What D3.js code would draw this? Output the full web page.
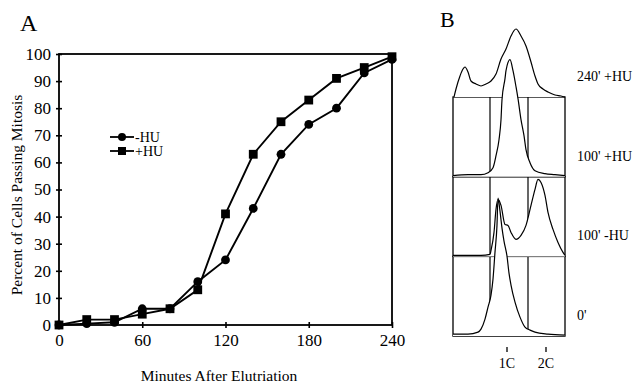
<!DOCTYPE html>
<html>
<head>
<meta charset="utf-8">
<script src="https://cdn.jsdelivr.net/npm/d3@7"></script>
<style>
  body { margin: 0; background: #fff; }
  svg { display: block; font-family: "Liberation Serif", "Times New Roman", serif; }
</style>
</head>
<body>
<svg id="chart" width="639" height="383"></svg>
<script>
// ---- panel A: percent of cells passing mitosis ----
const minutes = [0, 20, 40, 60, 80, 100, 120, 140, 160, 180, 200, 220, 240];
const minusHU = [0, 0.5, 1, 6, 6, 16, 24, 43, 63, 74, 80, 93, 98];
const plusHU  = [0, 2, 2, 4, 6, 13, 41, 63, 75, 83, 91, 95, 99];
const xTickVals = [0, 60, 120, 180, 240];
const yTickVals = [0, 10, 20, 30, 40, 50, 60, 70, 80, 90, 100];

// ---- panel B: DNA content histograms (channel, relative count) ----
const histLabels = ["240' +HU", "100' +HU", "100' -HU", "0'"];
const ch240p  = [1, 3, 7, 10, 12, 15, 18, 23, 28, 33, 38, 43, 48, 53, 58, 63, 68, 73, 78, 82, 85, 90, 95, 102, 108, 112];
const cnt240p = [0, 8, 21, 28, 30, 25, 16, 13, 11, 13, 16, 23, 38, 48, 61, 68, 61, 51, 35, 21, 13, 8, 5, 2, 1, 0];
const ch100p  = [0, 15, 28, 35, 40, 43, 46, 48, 49, 52, 53, 57, 60, 63, 65, 68, 71, 73, 77, 82, 92, 102, 112];
const cnt100p = [1, 2, 2, 4, 9, 21, 37, 57, 77, 98, 106, 117, 106, 90, 78, 57, 41, 27, 14, 6, 3, 2, 1];
const ch100m  = [0, 15, 28, 37, 38, 41, 43, 45, 48, 52, 55, 58, 63, 68, 73, 78, 82, 85, 88, 92, 95, 100, 105, 110, 112];
const cnt100m = [1, 1, 1, 2, 6, 24, 47, 57, 51, 32, 31, 24, 17, 21, 31, 51, 67, 77, 74, 61, 44, 27, 14, 4, 1];
const ch0     = [0, 15, 25, 28, 32, 35, 38, 40, 42, 44, 45, 47, 49, 51, 54, 56, 58, 62, 67, 72, 77, 82, 95, 112];
const cnt0    = [2, 2, 4, 7, 17, 29, 41, 57, 84, 111, 138, 125, 108, 95, 80, 63, 51, 34, 19, 9, 6, 4, 2, 1];
const gateChannels = [37, 75];
const peakMarks = ["1C", "2C"];
const peakChannels = [54, 93];

const svg = d3.select('#chart');

// ================= panel A =================
const xA = d3.scaleLinear().domain([0, 240]).range([59, 392]);
const yA = d3.scaleLinear().domain([0, 100]).range([325, 54]);
const gA = svg.append('g');

gA.append('text').attr('x', 20).attr('y', 31).attr('font-size', 24).text('A');

gA.append('rect')
  .attr('x', xA(0)).attr('y', yA(100))
  .attr('width', xA(240) - xA(0)).attr('height', yA(0) - yA(100))
  .attr('fill', 'none').attr('stroke', '#000').attr('stroke-width', 1.8);

const yAxis = gA.append('g').attr('transform', `translate(${xA(0)},0)`)
  .call(d3.axisLeft(yA).tickValues(yTickVals).tickSizeInner(3).tickSizeOuter(0).tickPadding(5));
gA.append('g').attr('transform', `translate(${xA(0)},0)`)
  .call(d3.axisRight(yA).tickValues(yTickVals).tickSize(3).tickFormat(''));
const xAxis = gA.append('g').attr('transform', `translate(0,${yA(0)})`)
  .call(d3.axisBottom(xA).tickValues(xTickVals).tickSizeInner(3).tickSizeOuter(0).tickPadding(6));
gA.append('g').attr('transform', `translate(0,${yA(0)})`)
  .call(d3.axisTop(xA).tickValues(xTickVals).tickSize(3).tickFormat(''));

gA.selectAll('.domain').remove();
gA.selectAll('.tick line').attr('stroke', '#000').attr('stroke-width', 1.6);
yAxis.selectAll('text').attr('font-size', 17).attr('fill', '#000');
xAxis.selectAll('text').attr('font-size', 17).attr('fill', '#000');
gA.selectAll('g').attr('font-family', null);

gA.append('text')
  .attr('transform', 'translate(22,195) rotate(-90)')
  .attr('text-anchor', 'middle').attr('font-size', 15.5)
  .text('Percent of Cells Passing Mitosis');
gA.append('text')
  .attr('x', 219).attr('y', 381)
  .attr('text-anchor', 'middle').attr('font-size', 15.5)
  .text('Minutes After Elutriation');

const line = d3.line().x(d => xA(d[0])).y(d => yA(d[1]));
const seriesA = [
  { name: '-HU', values: minusHU, shape: 'circle' },
  { name: '+HU', values: plusHU, shape: 'square' }
];

seriesA.forEach(s => {
  const pts = minutes.map((m, i) => [m, s.values[i]]);
  gA.append('path').datum(pts)
    .attr('d', line).attr('fill', 'none')
    .attr('stroke', '#000').attr('stroke-width', 1.9);
  if (s.shape === 'circle') {
    gA.selectAll(null).data(pts).enter().append('circle')
      .attr('cx', d => xA(d[0])).attr('cy', d => yA(d[1])).attr('r', 4.4);
  } else {
    gA.selectAll(null).data(pts).enter().append('rect')
      .attr('x', d => xA(d[0]) - 4.4).attr('y', d => yA(d[1]) - 4.4)
      .attr('width', 8.8).attr('height', 8.8);
  }
});

// legend
seriesA.forEach((s, i) => {
  const ly = 137 + i * 14;
  gA.append('line').attr('x1', 110).attr('x2', 134).attr('y1', ly).attr('y2', ly)
    .attr('stroke', '#000').attr('stroke-width', 1.8);
  if (s.shape === 'circle') {
    gA.append('circle').attr('cx', 122).attr('cy', ly).attr('r', 4);
  } else {
    gA.append('rect').attr('x', 118).attr('y', ly - 4).attr('width', 8).attr('height', 8);
  }
  gA.append('text').attr('x', 135).attr('y', ly).attr('dy', '0.35em')
    .attr('font-size', 14).text(s.name);
});

// ================= panel B =================
const gB = svg.append('g');
gB.append('text').attr('x', 440).attr('y', 27).attr('font-size', 22).text('B');

const xB = d3.scaleLinear().domain([0, 112]).range([453, 565]);
const hB = d3.scaleLinear().domain([0, 80]).range([0, 80]);
const rowTop = 97, rowH = 79.7;
const baseOf = i => rowTop + i * rowH;   // row 0 sits on top of the boxes

const hists = [
  { ch: ch240p, n: cnt240p },
  { ch: ch100p, n: cnt100p },
  { ch: ch100m, n: cnt100m },
  { ch: ch0, n: cnt0 }
];

// boxes with gate lines (rows 1..3)
for (let i = 1; i < hists.length; i++) {
  const top = baseOf(i - 1), bot = baseOf(i);
  gB.append('rect').attr('x', xB(0)).attr('y', top)
    .attr('width', xB(112) - xB(0)).attr('height', bot - top)
    .attr('fill', 'none').attr('stroke', '#000').attr('stroke-width', 1.3);
  gateChannels.forEach(c => {
    gB.append('line').attr('x1', xB(c)).attr('x2', xB(c)).attr('y1', top).attr('y2', bot)
      .attr('stroke', '#000').attr('stroke-width', 1.2);
  });
}

hists.forEach((h, i) => {
  const base = baseOf(i);
  const pts = h.ch.map((c, j) => [c, h.n[j]]);
  const area = d3.area().x(d => xB(d[0])).y0(base).y1(d => base - hB(d[1])).curve(d3.curveMonotoneX);
  const ln = d3.line().x(d => xB(d[0])).y(d => base - hB(d[1])).curve(d3.curveMonotoneX);
  gB.append('path').datum(pts).attr('d', area).attr('fill', '#fff');
  gB.append('path').datum(pts).attr('d', ln).attr('fill', 'none')
    .attr('stroke', '#000').attr('stroke-width', 1.2);
  const labelY = [81, 161, 240, 320][i];
  gB.append('text').attr('x', 577).attr('y', labelY).attr('font-size', 14).text(histLabels[i]);
});

// 1C / 2C marks
peakMarks.forEach((m, i) => {
  const x = xB(peakChannels[i]);
  gB.append('line').attr('x1', x).attr('x2', x).attr('y1', 347).attr('y2', 352)
    .attr('stroke', '#000').attr('stroke-width', 1.3);
  gB.append('text').attr('x', x).attr('y', 368).attr('text-anchor', 'middle')
    .attr('font-size', 14).text(m);
});
</script>
</body>
</html>
